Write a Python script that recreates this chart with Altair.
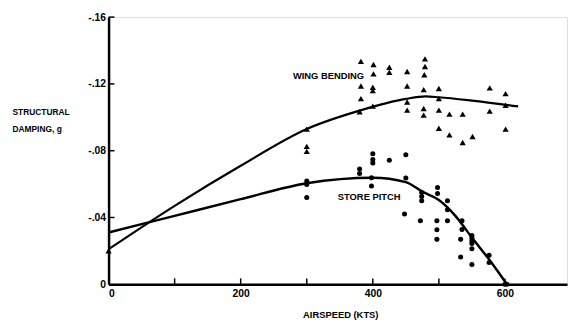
import altair as alt
import pandas as pd

# ---- data ----
# Wing bending (triangles)
wb_x = [0, 300, 300, 300, 382, 382, 382, 380, 401, 401, 400, 400, 400, 425, 425,
        452, 452, 452, 452, 479, 479, 478, 477, 477, 477, 500, 500, 500, 500,
        516, 516, 536, 536, 551, 577, 577, 601, 601, 601]
wb_y = [0.020, 0.0929, 0.0826, 0.0796, 0.1335, 0.1187, 0.1112, 0.1033, 0.1316, 0.126,
        0.118, 0.116, 0.1067, 0.130, 0.127, 0.1274, 0.1187, 0.1092, 0.1043, 0.135,
        0.1304, 0.1255, 0.1166, 0.1053, 0.1013, 0.1172, 0.1112, 0.1043, 0.0934,
        0.1019, 0.0895, 0.1019, 0.0849, 0.0885, 0.1176, 0.1037, 0.1142, 0.1072, 0.0929]
# Store pitch (dots)
sp_x = [300, 300, 300, 380, 380, 400, 400, 400, 398, 398, 425, 450, 450, 448,
        474, 474, 474, 472, 498, 498, 497, 497, 497, 513, 513, 513, 535, 535,
        533, 533, 550, 550, 550, 550, 550, 550, 576, 576, 600, 603]
sp_y = [0.0618, 0.0598, 0.052, 0.0691, 0.0664, 0.0782, 0.0747, 0.0727, 0.0638, 0.0589,
        0.0743, 0.0776, 0.0636, 0.0421, 0.0549, 0.0526, 0.05, 0.0381, 0.0579, 0.0543,
        0.0381, 0.0326, 0.0269, 0.05, 0.0446, 0.0381, 0.0381, 0.0328, 0.0269, 0.0164,
        0.0292, 0.0277, 0.0261, 0.0245, 0.0213, 0.0119, 0.0174, 0.013, 0.0, 0.0]
# Faired curves
wb_curve_x = [0, 100, 200, 300, 380, 450, 480, 500, 550, 620]
wb_curve_y = [0.021, 0.047, 0.071, 0.093, 0.104, 0.111, 0.1125, 0.112, 0.110, 0.1065]
sp_curve_x = [0, 100, 200, 300, 400, 450, 475, 500, 525, 550, 575, 603]
sp_curve_y = [0.031, 0.041, 0.051, 0.0605, 0.0638, 0.0612, 0.0555, 0.0505, 0.041, 0.028, 0.0154, 0.0]

# Annotations
ann_label = ["WING BENDING", "STORE PITCH"]
ann_x = [279, 347]
ann_y = [0.125, 0.0523]

x_label_vals = [0, 200, 400, 600]
x_tick_vals = [100, 200, 300, 400, 500, 600]
y_tick_vals = [0.04, 0.08, 0.12, 0.16]
y_label_vals = [0, 0.04, 0.08, 0.12, 0.16]

W, H = 465, 271
FONT = "Liberation Sans, Arial, sans-serif"

wb_pts = pd.DataFrame({"x": wb_x, "y": wb_y})
sp_pts = pd.DataFrame({"x": sp_x, "y": sp_y})
wb_c = pd.DataFrame({"x": wb_curve_x, "y": wb_curve_y})
sp_c = pd.DataFrame({"x": sp_curve_x, "y": sp_curve_y})
ann = pd.DataFrame({"x": ann_x, "y": ann_y, "label": ann_label})
xt = pd.DataFrame({"x": x_tick_vals})
yt = pd.DataFrame({"y": y_tick_vals})

xaxis = alt.Axis(values=x_label_vals, ticks=False, grid=False, domainColor="black",
                 domainWidth=2.5, labelFont=FONT, labelFontSize=10.5, labelFontWeight="bold",
                 labelColor="black", labelPadding=4, title="AIRSPEED (KTS)",
                 titleFont=FONT, titleFontSize=9.5, titleFontWeight="bold", titleColor="black",
                 titleX=235, titleY=31, titleBaseline="middle", titleAlign="center")
yaxis = alt.Axis(values=y_label_vals, ticks=False, grid=False, domainColor="black",
                 domainWidth=2.5, labelFont=FONT, labelFontSize=10.5, labelFontWeight="bold",
                 labelColor="black", labelPadding=3,
                 labelExpr="datum.value == 0 ? '0' : '-' + replace(format(datum.value, '.2f'), '0.', '.')",
                 title=["STRUCTURAL", "DAMPING, g"], titleFont=FONT, titleFontSize=8.5,
                 titleFontWeight="bold", titleColor="black", titleAngle=0, titleAlign="left",
                 titleBaseline="middle", titleX=-98, titleY=96, titleLineHeight=17)

X = alt.X("x:Q", scale=alt.Scale(domain=[0, 694], nice=False, zero=False), axis=xaxis)
Y = alt.Y("y:Q", scale=alt.Scale(domain=[0, 0.16], nice=False, zero=False), axis=yaxis)

line_wb = alt.Chart(wb_c).mark_line(color="black", strokeWidth=2.2, interpolate="monotone").encode(x=X, y=Y)
line_sp = alt.Chart(sp_c).mark_line(color="black", strokeWidth=2.5, interpolate="monotone").encode(x=X, y=Y)
pts_wb = alt.Chart(wb_pts).mark_point(shape="triangle-up", filled=True, color="black",
                                      size=40, opacity=1).encode(x=X, y=Y)
pts_sp = alt.Chart(sp_pts).mark_point(shape="circle", filled=True, color="black",
                                      size=26, opacity=1).encode(x=X, y=Y)
txt = alt.Chart(ann).mark_text(align="left", baseline="middle", font=FONT, fontSize=9.5,
                               fontWeight="bold", color="black").encode(x=X, y=Y, text="label:N")
xticks = alt.Chart(xt).mark_rule(color="black", strokeWidth=1.5).encode(
    x=X, y=alt.value(H), y2=alt.value(H - 6))
yticks = alt.Chart(yt).mark_rule(color="black", strokeWidth=1.5).encode(
    y=Y, x=alt.value(0), x2=alt.value(6))

chart = alt.layer(xticks, yticks, line_wb, line_sp, pts_wb, pts_sp, txt).properties(
    width=W, height=H,
    autosize=alt.AutoSizeParams(type="none"),
    padding={"left": 102, "top": 7, "right": 2, "bottom": 35},
).configure_view(stroke=None).configure(background="white")

chart.save("out.html", embed_options={"renderer": "svg", "actions": False})
